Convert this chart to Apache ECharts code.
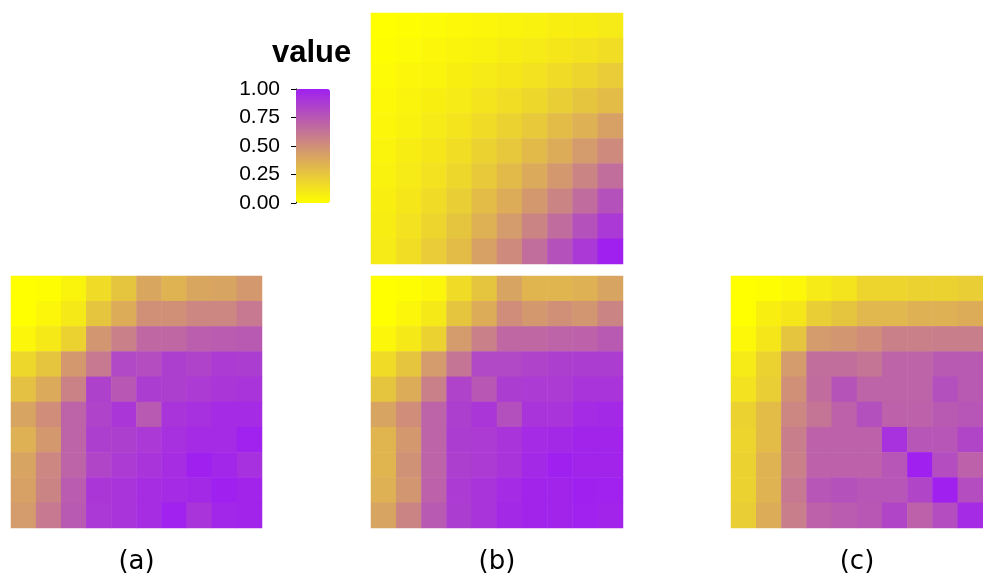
<!DOCTYPE html>
<html>
<head>
<meta charset="utf-8">
<script src="https://cdn.jsdelivr.net/npm/echarts@6/dist/echarts.min.js"></script>
<style>html,body{margin:0;padding:0;background:#fff}#c{width:983px;height:583px}</style>
</head>
<body>
<div id="c"></div>
<script>
var cats = ['1','2','3','4','5','6','7','8','9','10'];
var panelLabels = ['(a)', '(b)', '(c)'];
var legendTicks = ['0.00', '0.25', '0.50', '0.75', '1.00'];

var matTop = [
  [0.00,0.01,0.02,0.03,0.04,0.05,0.06,0.07,0.08,0.09],
  [0.01,0.02,0.04,0.05,0.06,0.08,0.09,0.11,0.13,0.15],
  [0.02,0.04,0.05,0.07,0.09,0.11,0.13,0.16,0.19,0.23],
  [0.03,0.05,0.07,0.09,0.12,0.15,0.18,0.22,0.26,0.30],
  [0.04,0.06,0.09,0.12,0.16,0.20,0.24,0.30,0.35,0.42],
  [0.05,0.08,0.11,0.15,0.20,0.25,0.31,0.37,0.45,0.52],
  [0.06,0.09,0.13,0.18,0.24,0.31,0.38,0.46,0.55,0.65],
  [0.07,0.11,0.16,0.22,0.30,0.37,0.46,0.55,0.66,0.78],
  [0.08,0.13,0.19,0.26,0.35,0.45,0.55,0.66,0.78,0.89],
  [0.09,0.15,0.23,0.30,0.42,0.52,0.65,0.78,0.89,1.00]
];
var matA = [
  [0.00,0.01,0.05,0.16,0.26,0.40,0.34,0.40,0.41,0.46],
  [0.00,0.04,0.10,0.26,0.37,0.50,0.50,0.54,0.54,0.60],
  [0.04,0.10,0.20,0.47,0.57,0.68,0.68,0.72,0.73,0.74],
  [0.18,0.26,0.46,0.60,0.82,0.80,0.86,0.84,0.88,0.87],
  [0.28,0.38,0.56,0.85,0.75,0.87,0.86,0.88,0.90,0.91],
  [0.41,0.51,0.70,0.84,0.90,0.74,0.91,0.93,0.95,0.95],
  [0.35,0.46,0.70,0.86,0.86,0.89,0.93,0.95,0.95,0.99],
  [0.41,0.54,0.70,0.83,0.88,0.91,0.94,1.00,0.97,0.93],
  [0.42,0.55,0.73,0.90,0.91,0.94,0.95,0.96,1.00,0.98],
  [0.45,0.60,0.74,0.89,0.91,0.94,0.99,0.91,0.97,0.98]
];
var matB = [
  [0.00,0.01,0.04,0.16,0.26,0.41,0.33,0.33,0.35,0.41],
  [0.00,0.04,0.10,0.26,0.37,0.51,0.46,0.50,0.47,0.55],
  [0.04,0.10,0.20,0.45,0.57,0.68,0.68,0.70,0.71,0.74],
  [0.16,0.26,0.45,0.62,0.82,0.82,0.84,0.86,0.87,0.87],
  [0.26,0.37,0.57,0.84,0.75,0.87,0.88,0.88,0.91,0.91],
  [0.41,0.51,0.70,0.86,0.90,0.79,0.91,0.91,0.95,0.96],
  [0.33,0.46,0.70,0.87,0.88,0.91,0.95,0.96,0.98,0.98],
  [0.33,0.49,0.70,0.86,0.88,0.91,0.96,1.00,0.98,0.98],
  [0.35,0.47,0.71,0.88,0.91,0.95,0.98,0.98,1.00,0.99],
  [0.41,0.55,0.74,0.87,0.91,0.96,0.98,0.98,0.99,0.98]
];
var matC = [
  [0.00,0.01,0.03,0.09,0.12,0.19,0.19,0.20,0.20,0.22],
  [0.00,0.07,0.11,0.22,0.26,0.32,0.32,0.35,0.35,0.37],
  [0.03,0.11,0.26,0.45,0.47,0.51,0.57,0.57,0.58,0.58],
  [0.09,0.20,0.45,0.65,0.65,0.62,0.70,0.70,0.74,0.74],
  [0.13,0.22,0.50,0.66,0.77,0.70,0.70,0.70,0.79,0.74],
  [0.20,0.30,0.54,0.62,0.71,0.79,0.71,0.71,0.74,0.76],
  [0.19,0.30,0.58,0.71,0.71,0.71,0.92,0.76,0.76,0.83],
  [0.20,0.34,0.57,0.71,0.71,0.71,0.76,1.00,0.80,0.71],
  [0.20,0.34,0.60,0.76,0.78,0.76,0.76,0.83,1.00,0.80],
  [0.22,0.37,0.58,0.71,0.73,0.75,0.83,0.71,0.80,0.95]
];

function toCells(m) {
  var out = [];
  for (var r = 0; r < m.length; r++) {
    for (var c = 0; c < m[r].length; c++) out.push([c, r, m[r][c]]);
  }
  return out;
}

var FONT = 'Liberation Sans';
var grids = [
  {left: 371, top: 13, width: 252, height: 251},
  {left: 11, top: 276, width: 251, height: 252},
  {left: 371, top: 276, width: 252, height: 252},
  {left: 731, top: 276, width: 252, height: 252},
  {left: 296, top: 89, width: 34, height: 114}
];
var mats = [matTop, matA, matB, matC];
var xAxes = [], yAxes = [], series = [];
for (var i = 0; i < 4; i++) {
  xAxes.push({
    type: 'category', gridIndex: i, data: cats,
    axisLine: {show: false}, axisTick: {show: false}, axisLabel: {show: false}, splitLine: {show: false},
    name: i > 0 ? panelLabels[i - 1] : '', nameLocation: 'middle', nameGap: 21,
    nameTextStyle: {fontSize: 26, color: '#000', fontFamily: 'DejaVu Sans'}
  });
  yAxes.push({
    type: 'category', gridIndex: i, data: cats, inverse: true,
    axisLine: {show: false}, axisTick: {show: false}, axisLabel: {show: false}, splitLine: {show: false}
  });
  series.push({
    type: 'heatmap', xAxisIndex: i, yAxisIndex: i, data: toCells(mats[i]),
    itemStyle: {borderWidth: 0}, emphasis: {disabled: true}, silent: true
  });
}
xAxes.push({type: 'value', gridIndex: 4, show: false, min: 0, max: 1});
yAxes.push({
  type: 'value', gridIndex: 4, min: 0, max: 1, interval: 0.25, position: 'left', offset: 5,
  axisLine: {show: true, lineStyle: {color: '#000', width: 1}},
  axisTick: {show: true, length: 5, lineStyle: {color: '#000'}},
  splitLine: {show: false},
  axisLabel: {fontSize: 21, color: '#000', fontFamily: FONT, margin: 11,
    formatter: function (v) { return legendTicks[Math.round(v / 0.25)]; }}
});

var chart = echarts.init(document.getElementById('c'), null, {renderer: 'canvas'});
chart.setOption({
  animation: false,
  backgroundColor: '#fff',
  textStyle: {fontFamily: FONT},
  title: {text: 'value', left: 272, top: 38, padding: 0,
    textStyle: {fontSize: 31, fontWeight: 'bold', color: '#000', fontFamily: FONT}},
  grid: grids,
  xAxis: xAxes,
  yAxis: yAxes,
  visualMap: {
    type: 'continuous', min: 0, max: 1, calculable: false, orient: 'vertical',
    left: 296, top: 89, itemWidth: 34, itemHeight: 114, padding: 0,
    inRange: {color: ['#FFFF00', '#A020F0']},
    seriesIndex: [0, 1, 2, 3], hoverLink: false
  },
  series: series
});
</script>
</body>
</html>
